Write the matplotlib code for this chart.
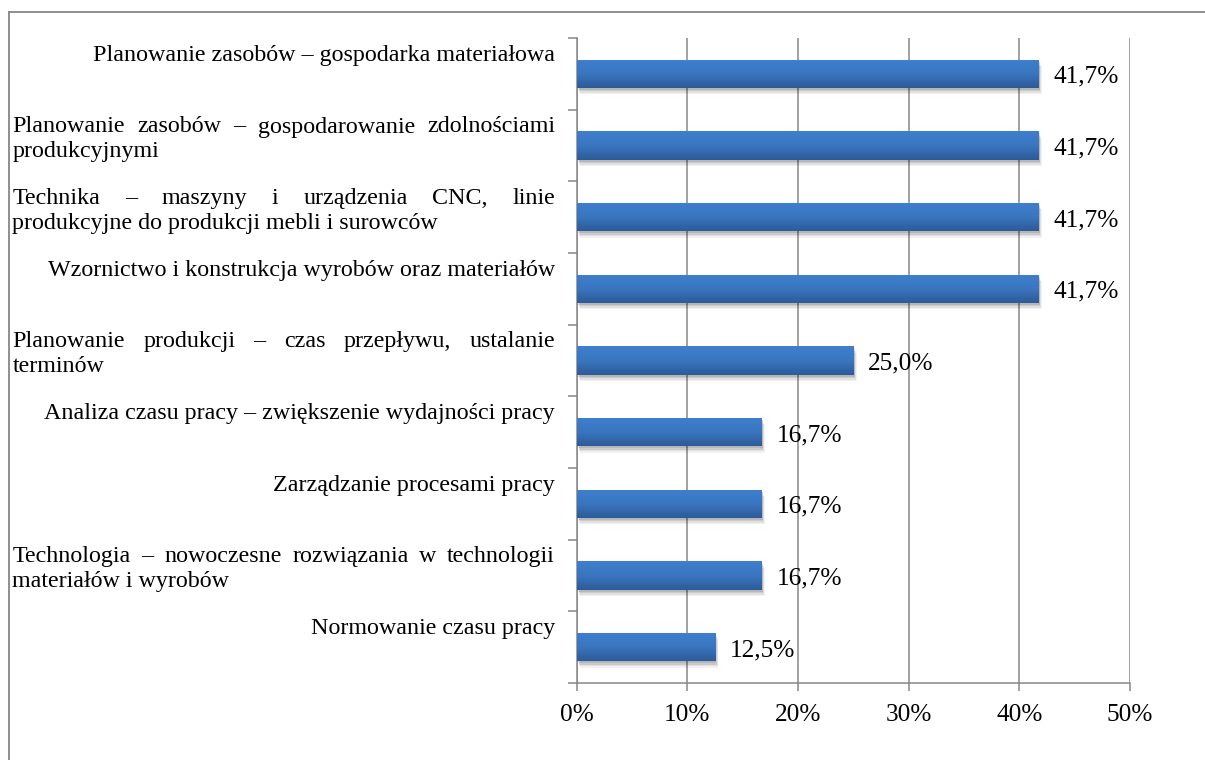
import numpy as np
import matplotlib
matplotlib.use("Agg")
import matplotlib.pyplot as plt
import matplotlib.transforms as mtransforms
import matplotlib.patheffects as pe
from matplotlib.lines import Line2D
from matplotlib.colors import LinearSegmentedColormap
from matplotlib.ticker import FuncFormatter

# ---- data ----
category_lines = [
    ["Planowanie zasobów – gospodarka materiałowa"],
    ["Planowanie zasobów – gospodarowanie zdolnościami", "produkcyjnymi"],
    ["Technika – maszyny i urządzenia CNC, linie", "produkcyjne do produkcji mebli i surowców"],
    ["Wzornictwo i konstrukcja wyrobów oraz materiałów"],
    ["Planowanie produkcji – czas przepływu, ustalanie", "terminów"],
    ["Analiza czasu pracy – zwiększenie wydajności pracy"],
    ["Zarządzanie procesami pracy"],
    ["Technologia – nowoczesne rozwiązania w technologii", "materiałów i wyrobów"],
    ["Normowanie czasu pracy"],
]
values = [41.7, 41.7, 41.7, 41.7, 25.0, 16.7, 16.7, 16.7, 12.5]
x_ticks = [0, 10, 20, 30, 40, 50]

# ---- style ----
FONT = "Liberation Serif"
GRAY = "#878787"
W, H, DPI = 1205, 760, 100
plt.rcParams["font.family"] = [FONT, "DejaVu Serif"]

fig = plt.figure(figsize=(W / DPI, H / DPI), dpi=DPI)
fig.patch.set_facecolor("white")

ax_l, ax_r, ax_t, ax_b = 576.5, 1130.0, 38.0, 683.0
ax = fig.add_axes([ax_l / W, (H - ax_b) / H, (ax_r - ax_l) / W, (ax_b - ax_t) / H])

n = len(values)
ypos = np.arange(n) + 0.5
ax.set_xlim(0, 50)
ax.set_ylim(n, 0)

# gradient colormap (top lighter -> bottom darker)
cmap = LinearSegmentedColormap.from_list("bar", ["#3e7fcf", "#3a76c0", "#2c5b98"])
grad = np.linspace(0, 1, 64).reshape(-1, 1)

bar_h = 0.395
bars = ax.barh(ypos, values, height=bar_h, color="#3570b8", zorder=3, linewidth=0)
shadow_fx = [
    pe.SimplePatchShadow(offset=(2.5, -4.5), shadow_rgbFace="#000000", alpha=0.05),
    pe.SimplePatchShadow(offset=(2.0, -3.5), shadow_rgbFace="#000000", alpha=0.07),
    pe.SimplePatchShadow(offset=(1.5, -2.5), shadow_rgbFace="#000000", alpha=0.09),
    pe.SimplePatchShadow(offset=(1.0, -1.5), shadow_rgbFace="#000000", alpha=0.10),
    pe.Normal(),
]
for b in bars:
    b.set_path_effects(shadow_fx)
    x0, y0 = b.get_x(), b.get_y()
    # y axis is inverted: y0 is the visual top of the bar
    im = ax.imshow(grad, cmap=cmap, aspect="auto", interpolation="bicubic",
                   extent=(x0, x0 + b.get_width(), y0 + b.get_height(), y0),
                   origin="upper", zorder=4)
    im.set_clip_path(b)
ax.set_xlim(0, 50)
ax.set_ylim(n, 0)

# value labels
for v, y in zip(values, ypos):
    ax.annotate(f"{v:.1f}%".replace(".", ","), xy=(v, y), xytext=(15, -9.0),
                textcoords="offset pixels", ha="left", va="baseline",
                fontsize=18.3, color="black", zorder=5)

# axes styling
ax.set_xticks(x_ticks)
ax.xaxis.set_major_formatter(FuncFormatter(lambda x, p: f"{int(x)}%"))
ax.set_yticks(np.arange(n + 1))
ax.set_yticklabels([])
ax.tick_params(axis="x", length=5.8, width=1.1, color=GRAY, pad=9.5, labelsize=18.2)
ax.tick_params(axis="y", length=6.5, width=1.1, color=GRAY, labelleft=False)
ax.grid(axis="x", color=GRAY, linewidth=1.1, zorder=0)
ax.set_axisbelow(True)
for s in ["top", "right"]:
    ax.spines[s].set_visible(False)
for s in ["left", "bottom"]:
    ax.spines[s].set_color(GRAY)
    ax.spines[s].set_linewidth(1.1)

# category labels (justified like Excel)
renderer = fig.canvas.get_renderer()
x_left, x_right = 12.5 / W, 555.0 / W
base = mtransforms.blended_transform_factory(fig.transFigure, ax.transData)
line_dy = [13.0, -12.0]  # pixels (up positive)
CAT_FS = 17.3

def line_tr(i):
    return base + mtransforms.ScaledTranslation(0, line_dy[i] / DPI, fig.dpi_scale_trans)

for lines, y in zip(category_lines, ypos):
    if len(lines) == 1:
        fig.text(x_right, y, lines[0], transform=line_tr(0), ha="right", va="baseline",
                 fontsize=CAT_FS, color="black")
        continue
    for i, line in enumerate(lines):
        tr = line_tr(i)
        if i == len(lines) - 1:
            fig.text(x_left, y, line, transform=tr, ha="left", va="baseline",
                     fontsize=CAT_FS, color="black")
            continue
        words = line.split(" ")
        txts = [fig.text(0, y, w, transform=tr, ha="left", va="baseline",
                         fontsize=CAT_FS, color="black") for w in words]
        widths = [t.get_window_extent(renderer).width / W for t in txts]
        gap = ((x_right - x_left) - sum(widths)) / (len(words) - 1)
        xc = x_left
        for t, wd in zip(txts, widths):
            t.set_x(xc)
            xc += wd + gap

# outer chart border (extends beyond the image at right and bottom)
fig.add_artist(Line2D([8.7 / W, 8.7 / W], [0, (H - 12) / H], color=GRAY, linewidth=1.3,
                      transform=fig.transFigure))
fig.add_artist(Line2D([8.7 / W, 1], [(H - 12) / H, (H - 12) / H], color=GRAY, linewidth=1.3,
                      transform=fig.transFigure))

fig.savefig("out.png", dpi=DPI, facecolor="white")
